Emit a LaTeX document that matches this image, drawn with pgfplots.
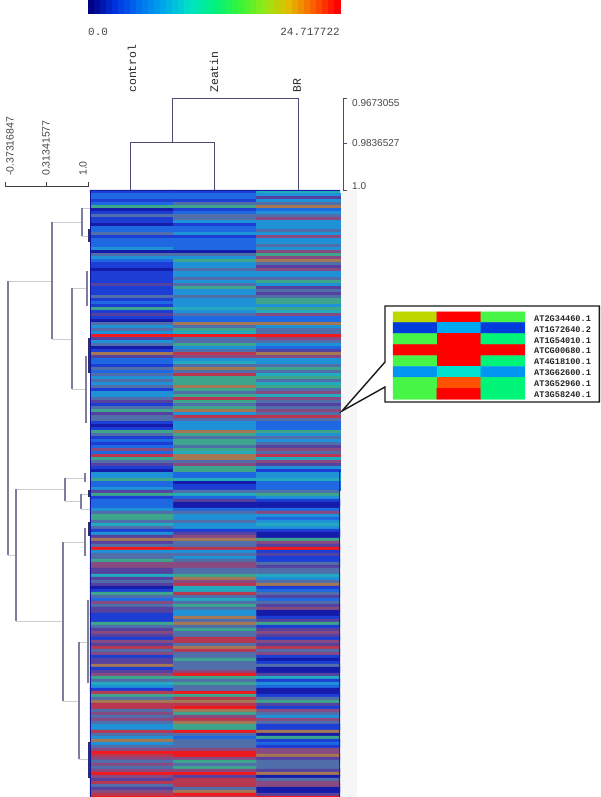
\documentclass[border=0pt]{standalone}
\usepackage{fontspec}
\setmainfont{Liberation Sans}
\newfontfamily\monof{Liberation Mono}
\usepackage{pgfplots}
\pgfplotsset{compat=1.18}
\definecolor{dendroV}{RGB}{125,125,160}
\definecolor{dendroH}{RGB}{205,205,208}
\definecolor{dendroD}{RGB}{45,45,115}
\definecolor{treeT}{RGB}{75,75,115}
\definecolor{txtg}{RGB}{70,70,70}
\pgfplotsset{
 colormap={heat}{rgb255=(22,28,170) rgb255=(28,62,212) rgb255=(30,105,225) rgb255=(30,145,215)
  rgb255=(35,170,190) rgb255=(60,165,140) rgb255=(80,110,170) rgb255=(85,65,160)
  rgb255=(135,75,130) rgb255=(185,55,80) rgb255=(240,25,30) rgb255=(165,120,85)},
 colormap={barmap}{rgb255=(0,0,130) rgb255=(0,50,225) rgb255=(0,115,240) rgb255=(0,170,235)
  rgb255=(0,225,200) rgb255=(0,240,130) rgb255=(50,245,60) rgb255=(140,235,25)
  rgb255=(225,190,0) rgb255=(250,100,0) rgb255=(255,0,0)},
 colormap={inset}{rgb255=(190,215,0) rgb255=(255,0,0) rgb255=(70,245,70) rgb255=(0,60,220)
  rgb255=(0,170,240) rgb255=(0,245,120) rgb255=(0,150,240) rgb255=(0,225,205) rgb255=(255,80,0)},
}
\begin{document}
\begin{tikzpicture}[x=1pt,y=1pt]
\path[use as bounding box] (0,0) rectangle (600,797);
\begin{axis}[at={(0,0)},anchor=south west,scale only axis,width=600pt,height=797pt,
 xmin=0,xmax=600,ymin=0,ymax=797,y dir=reverse,hide axis,clip=false,
 point meta rel=per plot,unbounded coords=jump]

% pale strip right of the heat map
\addplot[draw=none,fill={rgb,255:red,246;green,246;blue,246}] coordinates {(340,190)(357,190)(357,797)(340,797)} --cycle;

% colour bar
\addplot[matrix plot*,mesh/cols=42,point meta=explicit,colormap name=barmap]
 table[row sep=crcr,x expr={91+6*mod(\coordindex,42)},y expr={3.25+6.5*floor((\coordindex+0.5)/42)},meta=c]{
c\\0\\1\\2\\3\\4\\5\\6\\7\\8\\9\\10\\11\\12\\13\\14\\15\\16\\17\\18\\19\\20\\21\\22\\23\\24\\25\\26\\27\\28\\29\\30\\31\\32\\33\\34\\35\\36\\37\\38\\39\\40\\41\\
0\\1\\2\\3\\4\\5\\6\\7\\8\\9\\10\\11\\12\\13\\14\\15\\16\\17\\18\\19\\20\\21\\22\\23\\24\\25\\26\\27\\28\\29\\30\\31\\32\\33\\34\\35\\36\\37\\38\\39\\40\\41\\
};

% heat map: three columns, rows three pixels high
\addplot[matrix plot*,mesh/cols=3,point meta=explicit,colormap name=heat]
 table[row sep=crcr,x expr={131.67+83.33*mod(\coordindex,3)},y expr={191.5+3*floor((\coordindex+0.5)/3)},meta=c]{
c\\
1\\1\\4\\ 2\\2\\3\\ 2\\2\\7\\ 1\\1\\3\\ 2\\6\\6\\ 5\\5\\11\\ 0\\1\\2\\ 1\\2\\3\\ 6\\6\\6\\ 1\\6\\8\\
1\\3\\3\\ 0\\1\\3\\ 2\\2\\3\\ 2\\2\\6\\ 6\\3\\3\\ 1\\1\\8\\ 2\\2\\3\\ 2\\2\\3\\ 2\\2\\6\\ 3\\2\\3\\
0\\0\\8\\ 6\\6\\5\\ 3\\3\\8\\ 2\\5\\11\\ 1\\3\\6\\ 1\\3\\7\\ 0\\6\\8\\ 1\\3\\3\\ 1\\3\\3\\ 1\\6\\6\\
1\\3\\5\\ 7\\6\\3\\ 1\\5\\7\\ 1\\3\\6\\ 1\\3\\7\\
6\\6\\6\\ 1\\3\\5\\ 2\\3\\5\\ 1\\3\\3\\ 5\\4\\5\\ 1\\3\\4\\ 7\\6\\8\\ 1\\2\\2\\ 0\\2\\2\\ 6\\11\\11\\
3\\6\\3\\ 6\\5\\6\\ 3\\4\\6\\ 10\\10\\10\\ 7\\6\\8\\ 3\\6\\6\\ 6\\5\\3\\ 0\\3\\2\\ 1\\6\\7\\ 11\\9\\11\\
7\\8\\8\\ 2\\3\\3\\ 2\\4\\3\\ 1\\6\\6\\ 6\\11\\5\\ 2\\6\\6\\ 6\\9\\4\\ 3\\5\\5\\ 6\\5\\6\\ 3\\5\\4\\
6\\11\\5\\ 1\\5\\6\\ 3\\6\\8\\
3\\5\\4\\ 6\\9\\8\\ 7\\5\\6\\ 1\\6\\7\\ 6\\5\\6\\ 5\\11\\8\\ 7\\3\\6\\ 6\\9\\9\\ 6\\6\\6\\ 1\\3\\2\\
0\\3\\2\\ 1\\3\\2\\ 5\\11\\5\\ 6\\5\\3\\ 1\\6\\6\\ 2\\5\\3\\ 1\\5\\6\\ 2\\6\\7\\ 8\\5\\8\\ 2\\4\\6\\
9\\11\\9\\ 5\\11\\4\\ 6\\6\\8\\ 7\\8\\7\\ 1\\5\\3\\ 0\\5\\1\\ 3\\2\\3\\ 3\\2\\3\\ 5\\4\\4\\ 2\\0\\2\\
2\\1\\2\\ 3\\1\\2\\ 7\\6\\6\\ 5\\4\\5\\ 1\\2\\3\\
2\\7\\1\\ 2\\0\\0\\ 2\\0\\0\\ 3\\2\\2\\ 6\\6\\8\\ 5\\3\\3\\ 5\\3\\2\\ 6\\6\\3\\ 4\\3\\4\\ 6\\3\\3\\
1\\1\\1\\ 3\\7\\0\\ 7\\8\\0\\ 11\\11\\5\\ 7\\6\\8\\ 6\\6\\7\\ 10\\9\\10\\ 3\\3\\1\\ 6\\6\\7\\ 6\\3\\1\\
5\\6\\1\\ 8\\8\\6\\ 8\\8\\7\\ 7\\6\\6\\ 7\\6\\6\\ 4\\5\\4\\ 7\\11\\3\\ 6\\8\\6\\ 7\\9\\11\\ 0\\4\\1\\
1\\4\\2\\ 5\\9\\6\\ 6\\6\\7\\
2\\4\\2\\ 8\\6\\6\\ 6\\5\\7\\ 7\\6\\8\\ 7\\3\\0\\ 1\\3\\0\\ 1\\11\\1\\ 1\\6\\7\\ 5\\11\\5\\ 6\\6\\1\\
7\\5\\7\\ 8\\6\\8\\ 7\\6\\7\\ 1\\9\\1\\ 8\\9\\8\\ 7\\6\\7\\ 9\\11\\9\\ 6\\9\\6\\ 8\\6\\8\\ 1\\6\\1\\
7\\5\\0\\ 7\\6\\1\\ 11\\6\\6\\ 1\\6\\0\\ 7\\8\\0\\ 8\\10\\7\\ 5\\5\\4\\ 6\\6\\1\\ 4\\5\\3\\ 3\\6\\2\\
1\\6\\0\\ 9\\10\\0\\
5\\5\\1\\ 6\\9\\6\\ 11\\11\\5\\ 9\\9\\7\\ 9\\10\\1\\ 6\\11\\8\\ 8\\5\\6\\ 6\\8\\3\\ 8\\9\\8\\ 6\\11\\6\\
3\\5\\1\\ 3\\5\\1\\ 9\\10\\11\\ 6\\6\\0\\ 3\\2\\5\\ 11\\6\\1\\ 3\\6\\2\\ 6\\6\\1\\ 8\\8\\8\\ 10\\10\\8\\
9\\10\\11\\ 8\\8\\7\\ 6\\5\\6\\ 8\\6\\6\\ 6\\5\\6\\ 8\\8\\7\\ 10\\10\\11\\ 8\\7\\0\\ 7\\9\\6\\ 9\\9\\8\\
6\\9\\8\\ 7\\6\\0\\ 8\\11\\0\\ 9\\10\\7\\ 10\\9\\10\\ 7\\6\\0\\ 8\\6\\1\\
};

% edges of the heat map
\addplot[draw={rgb,255:red,15;green,20;blue,150},line width=1.6pt] coordinates {(90.6,190)(90.6,797)};
\addplot[draw={rgb,255:red,25;green,25;blue,160},line width=1pt] coordinates {(90,190)(340,190)};
\addplot[draw={rgb,255:red,30;green,30;blue,160},line width=0.9pt] coordinates {(339.6,470)(339.6,797)};

% column tree
\addplot[draw=treeT,line width=0.9pt] coordinates {(130,190)(130,142)(214,142)(214,190) (nan,nan) (172,142)(172,98)(298,98)(298,190)};
% scales
\addplot[draw=treeT,line width=0.8pt] coordinates {(347,98)(343.5,98)(343.5,190)(347,190) (nan,nan) (343.5,143)(347,143)};
\addplot[draw=black!75,line width=0.8pt] coordinates {(5,182)(5,186)(88,186)(88,182) (nan,nan) (46.5,186)(46.5,182)};

% row tree
\addplot[draw=dendroH,line width=0.8pt] coordinates {
 (8,281)(52,281) (nan,nan) (52,222)(82,222) (nan,nan) (82,208)(90,208) (nan,nan) (82,236)(90,236) (nan,nan)
 (52,339)(72,339) (nan,nan) (72,288)(87,288) (nan,nan) (72,389)(86,389) (nan,nan)
 (8,555)(16,555) (nan,nan) (16,489)(65,489) (nan,nan) (65,478)(85,478) (nan,nan) (65,501)(81,501) (nan,nan)
 (81,494)(90,494) (nan,nan) (81,509)(90,509) (nan,nan) (16,621)(63,621) (nan,nan) (63,542)(85,542) (nan,nan)
 (63,701)(79,701) (nan,nan) (79,642)(88,642) (nan,nan) (79,759)(88,759)};
\addplot[draw=dendroV,line width=1.1pt] coordinates {
 (8,281)(8,555) (nan,nan) (52,222)(52,339) (nan,nan) (82,208)(82,236) (nan,nan) (72,288)(72,389) (nan,nan)
 (87,271)(87,306) (nan,nan) (86,356)(86,423) (nan,nan) (16,489)(16,621) (nan,nan) (65,478)(65,501) (nan,nan)
 (85,473)(85,482) (nan,nan) (81,494)(81,509) (nan,nan) (63,542)(63,701) (nan,nan) (85,528)(85,556) (nan,nan)
 (79,642)(79,759)};
\addplot[draw=dendroV,line width=1.6pt] coordinates {(88,600)(88,683)};
\addplot[draw=dendroD,line width=1.1pt] coordinates {
 (89,229)(89,242) (nan,nan) (89,338)(89,373) (nan,nan) (89,490)(89,497) (nan,nan) (89,522)(89,536) (nan,nan) (89,742)(89,778)};

% call-out
\addplot[draw={rgb,255:red,25;green,25;blue,25},line width=1.4pt,fill=white] coordinates {
 (385,306)(599.3,306)(599.3,402)(385,402)(385,387)(342,411)(385,362)} --cycle;
\addplot[matrix plot*,mesh/cols=3,point meta=explicit,colormap name=inset]
 table[x=x,y=y,meta=c]{
x y c
415 317.2 0
458.7 317.2 1
502.8 317.2 2
415 328.1 3
458.7 328.1 4
502.8 328.1 3
415 339.1 2
458.7 339.1 1
502.8 339.1 5
415 350 1
458.7 350 1
502.8 350 1
415 361 2
458.7 361 1
502.8 361 5
415 371.9 6
458.7 371.9 7
502.8 371.9 6
415 382.9 2
458.7 382.9 8
502.8 382.9 5
415 393.8 2
458.7 393.8 1
502.8 393.8 5
};

% text
\node[anchor=west,text=txtg,font=\monof\fontsize{11}{12}\selectfont,inner sep=0pt] at (axis cs:88,32) {0.0};
\node[anchor=east,text=txtg,font=\monof\fontsize{11}{12}\selectfont,inner sep=0pt] at (axis cs:340,32) {24.717722};
\node[rotate=90,anchor=west,text=black!85,font=\monof\fontsize{11.5}{12}\selectfont,inner sep=0pt] at (axis cs:132,93) {control};
\node[rotate=90,anchor=west,text=black!85,font=\monof\fontsize{11.5}{12}\selectfont,inner sep=0pt] at (axis cs:214,93) {Zeatin};
\node[rotate=90,anchor=west,text=black!85,font=\monof\fontsize{11.5}{12}\selectfont,inner sep=0pt] at (axis cs:297,93) {BR};
\node[anchor=west,text=txtg,font=\fontsize{10}{12}\selectfont,inner sep=0pt] at (axis cs:352,103) {0.9673055};
\node[anchor=west,text=txtg,font=\fontsize{10}{12}\selectfont,inner sep=0pt] at (axis cs:352,143) {0.9836527};
\node[anchor=west,text=txtg,font=\fontsize{10}{12}\selectfont,inner sep=0pt] at (axis cs:352,186) {1.0};
\node[rotate=90,anchor=west,text=txtg,font=\fontsize{10.5}{12}\selectfont,inner sep=0pt] at (axis cs:10,176) {-0.37316847};
\node[rotate=90,anchor=west,text=txtg,font=\fontsize{10.5}{12}\selectfont,inner sep=0pt] at (axis cs:46,176) {0.31341577};
\node[rotate=90,anchor=west,text=txtg,font=\fontsize{10.5}{12}\selectfont,inner sep=0pt] at (axis cs:83,176) {1.0};
\foreach \yy/\lab in {319/AT2G34460.1,329.5/AT1G72640.2,340.5/AT1G54010.1,351/ATCG00680.1,362/AT4G18100.1,373/AT3G62600.1,384/AT3G52960.1,395/AT3G58240.1}{
 \edef\temp{\noexpand\node[anchor=west,text=black!85,font=\noexpand\monof\noexpand\bfseries\noexpand\fontsize{8.6}{10}\noexpand\selectfont,inner sep=0pt] at (axis cs:534,\yy) {\lab};}
 \temp
}
\end{axis}
\end{tikzpicture}
\end{document}
